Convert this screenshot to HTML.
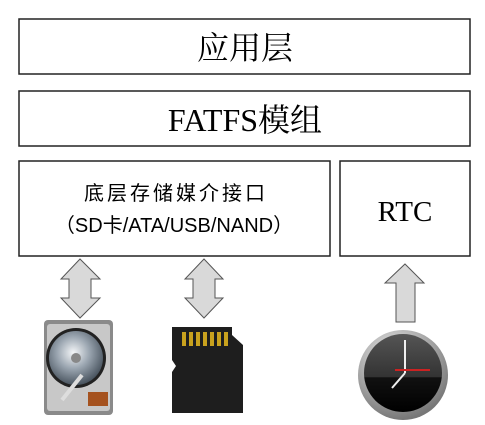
<!DOCTYPE html>
<html><head><meta charset="utf-8"><style>
body{margin:0;width:485px;height:420px;background:#fff;overflow:hidden}
</style></head><body>
<svg width="485" height="420" xmlns="http://www.w3.org/2000/svg">
<defs>
<radialGradient id="disc" cx="45%" cy="40%" r="60%"><stop offset="0" stop-color="#f4f6f8"/><stop offset="0.5" stop-color="#9aa5b0"/><stop offset="1" stop-color="#4a5560"/></radialGradient>
<radialGradient id="bezel" cx="40%" cy="30%" r="70%"><stop offset="0" stop-color="#f0f0f0"/><stop offset="1" stop-color="#777"/></radialGradient>
<linearGradient id="face" x1="0" y1="0" x2="0" y2="1"><stop offset="0" stop-color="#555"/><stop offset="0.55" stop-color="#333"/><stop offset="0.56" stop-color="#111"/><stop offset="1" stop-color="#000"/></linearGradient>
</defs>
<g fill="#fff" stroke="#222" stroke-width="1.5">
<rect x="19" y="19" width="451" height="55"/>
<rect x="19" y="91" width="451" height="55"/>
<rect x="19" y="161" width="311" height="95"/>
<rect x="340" y="161" width="130" height="95"/>
</g>
<g font-family="'Liberation Serif','Noto Serif CJK SC',serif" fill="#000" text-anchor="middle">
<text x="245" y="59" font-size="32">应用层</text>
<text x="245" y="131" font-size="32">FATFS模组</text>
<text x="405" y="221" font-size="29">RTC</text>
</g>
<g font-family="'Liberation Sans','Noto Sans CJK SC',sans-serif" fill="#000" text-anchor="middle" font-size="20">
<text x="176" y="200" letter-spacing="3">底层存储媒介接口</text>
<text x="174" y="232">（SD卡/ATA/USB/NAND）</text>
</g>
<g fill="#d9d9d9" stroke="#555" stroke-width="1">
<polygon points="80,259 100,279 91,279 91,298 100,298 80,318 61,298 69,298 69,279 61,279"/>
<polygon points="204,259 223,279 215,279 215,298 223,298 204,318 185,298 193,298 193,279 185,279"/>
<polygon points="405,264 424,283 415,283 415,322 396,322 396,283 385,283"/>
</g>
<rect x="44" y="320" width="69" height="95" rx="4" fill="#8a8a8a"/>
<rect x="47" y="324" width="63" height="87" rx="3" fill="#c8c8c8"/>
<circle cx="76" cy="358" r="30" fill="#222"/>
<circle cx="76" cy="358" r="27" fill="url(#disc)"/>
<circle cx="76" cy="358" r="5" fill="#888"/>
<line x1="62" y1="400" x2="82" y2="375" stroke="#ddd" stroke-width="4"/>
<rect x="88" y="392" width="20" height="14" fill="#a5521f"/>
<path d="M172,327 L232,327 L232,335 L243,345 L243,413 L172,413 L172,372 L176,366 L172,360 Z" fill="#1e1e1e"/>
<g fill="#c9a21e"><rect x="182" y="332" width="4" height="14"/><rect x="189" y="332" width="4" height="14"/><rect x="196" y="332" width="4" height="14"/><rect x="203" y="332" width="4" height="14"/><rect x="210" y="332" width="4" height="14"/><rect x="217" y="332" width="4" height="14"/><rect x="224" y="332" width="4" height="14"/></g>
<circle cx="403" cy="375" r="45" fill="url(#bezel)"/>
<circle cx="403" cy="373" r="39" fill="url(#face)"/>
<line x1="405" y1="373" x2="405" y2="340" stroke="#eee" stroke-width="2"/>
<line x1="405" y1="373" x2="392" y2="388" stroke="#eee" stroke-width="2"/>
<line x1="395" y1="370" x2="430" y2="370" stroke="#c22" stroke-width="2"/>
</svg>
</body></html>
